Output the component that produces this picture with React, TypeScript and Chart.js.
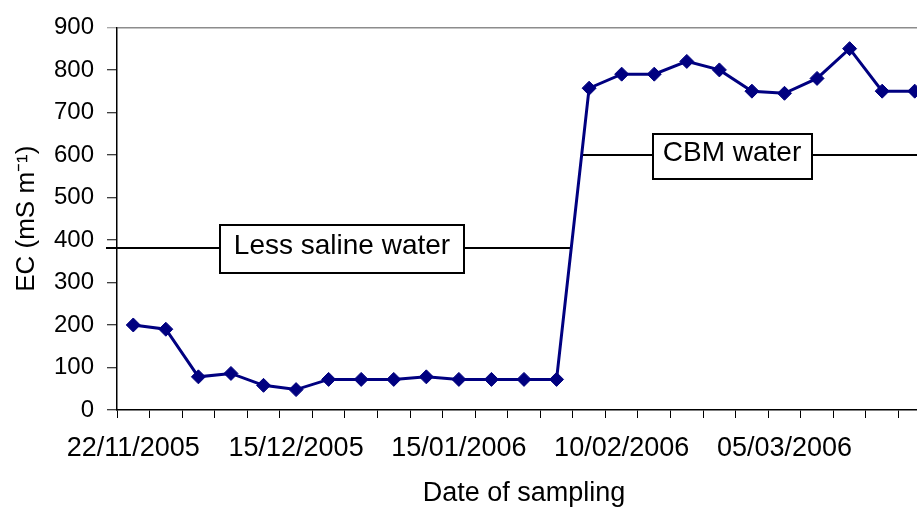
import React, { useEffect, useRef } from "react";
import { Chart, registerables } from "chart.js";

Chart.register(...registerables);

// ---- data ----
const categories = [
  "22/11/2005", "", "", "", "",
  "15/12/2005", "", "", "", "",
  "15/01/2006", "", "", "", "",
  "10/02/2006", "", "", "", "",
  "05/03/2006", "", "", "", "",
];
const ecValues = [
  200, 190, 78, 86, 58, 48, 72, 72, 72, 78, 72, 72, 72, 72,
  757, 790, 790, 820, 800, 750, 745, 780, 850, 750, 750,
];
const yMin = 0;
const yMax = 900;
const yStep = 100;
const annotationLabels = ["Less saline water", "CBM water"];
const annotationLevels = [380, 600];

const FONT = "'Liberation Sans', Arial, Helvetica, sans-serif";

function crossingX(chart: any, level: number): number | null {
  const xs = chart.scales.x;
  for (let i = 0; i < ecValues.length - 1; i++) {
    const a = ecValues[i];
    const b = ecValues[i + 1];
    if (a !== b && (a - level) * (b - level) <= 0) {
      const f = (level - a) / (b - a);
      const p0 = xs.getPixelForValue(i);
      const p1 = xs.getPixelForValue(i + 1);
      return p0 + f * (p1 - p0);
    }
  }
  return null;
}

const annotationPlugin = {
  id: "levelBoxes",
  beforeDatasetsDraw(chart: any, _args: any, opts: any) {
    const { ctx, chartArea, scales } = chart;
    const items = opts.items || [];
    ctx.save();
    items.forEach((it: any) => {
      const y = Math.round(scales.y.getPixelForValue(it.level));
      const cross = crossingX(chart, it.level);
      let x0: number, x1: number;
      if (it.side === "left") {
        x0 = chartArea.left - it.leftOverhang;
        x1 = cross ?? chartArea.right;
      } else {
        x0 = cross ?? chartArea.left;
        x1 = chartArea.right;
      }
      ctx.strokeStyle = "#000";
      ctx.lineWidth = 2;
      ctx.beginPath();
      ctx.moveTo(x0, y);
      ctx.lineTo(x1, y);
      ctx.stroke();

      ctx.font = `${it.fontSize}px ${FONT}`;
      const tw = ctx.measureText(it.text).width;
      const w = Math.round(tw + 2 * it.padX);
      const h = it.boxH;
      const cx = Math.round(scales.x.getPixelForValue(it.boxCenter));
      const top = Math.round(y - h / 2 + 1);
      const left = Math.round(cx - w / 2);
      ctx.fillStyle = "#fff";
      ctx.fillRect(left, top, w, h);
      ctx.lineWidth = 2;
      ctx.strokeRect(left, top, w, h);
      ctx.fillStyle = "#000";
      ctx.textAlign = "center";
      ctx.textBaseline = "alphabetic";
      ctx.fillText(it.text, cx, y + 6);
    });
    ctx.restore();
  },
};

export default function App() {
  const ref = useRef<HTMLCanvasElement | null>(null);

  useEffect(() => {
    if (!ref.current) return;
    const chart = new Chart(ref.current, {
      type: "line",
      data: {
        labels: categories,
        datasets: [
          {
            data: ecValues,
            borderColor: "#000080",
            backgroundColor: "#000080",
            borderWidth: 3,
            pointStyle: "rectRot",
            pointRadius: 7,
            pointBorderWidth: 1,
            pointBackgroundColor: "#000080",
            pointBorderColor: "#000080",
            tension: 0,
            fill: false,
          },
        ],
      },
      plugins: [annotationPlugin as any],
      options: {
        responsive: false,
        animation: false,
        devicePixelRatio: 1,
        layout: { padding: { left: 0, top: 21, right: 14, bottom: 0 } },
        plugins: {
          legend: { display: false },
          tooltip: { enabled: false },
          levelBoxes: {
            items: [
              {
                text: annotationLabels[0],
                level: annotationLevels[0],
                side: "left",
                leftOverhang: 11,
                boxCenter: 6.4,
                padX: 14,
                boxH: 48,
                fontSize: 28,
              },
              {
                text: annotationLabels[1],
                level: annotationLevels[1],
                side: "right",
                leftOverhang: 0,
                boxCenter: 18.4,
                padX: 10.5,
                boxH: 45,
                fontSize: 28,
              },
            ],
          },
        } as any,
        scales: {
          x: {
            type: "category",
            offset: true,
            afterFit: (s: any) => {
              s.height = 103;
            },
            grid: {
              offset: true,
              drawOnChartArea: false,
              drawTicks: true,
              tickLength: 8,
              color: "#000",
              tickColor: "#000",
              tickWidth: 1,
            },
            border: { display: true, color: "#000", width: 1.5 },
            ticks: {
              autoSkip: false,
              maxRotation: 0,
              minRotation: 0,
              padding: 14,
              color: "#000",
              font: { family: FONT, size: 27 },
              callback: (_v: any, i: number) => categories[i],
            },
            title: {
              display: true,
              text: "Date of sampling",
              color: "#000",
              font: { family: FONT, size: 27 },
              padding: { top: 0, bottom: 3 },
            },
          },
          y: {
            min: yMin,
            max: yMax,
            afterFit: (s: any) => {
              s.width = 117;
            },
            ticks: {
              stepSize: yStep,
              padding: 13,
              color: "#000",
              font: { family: FONT, size: 24 },
            },
            grid: {
              drawOnChartArea: true,
              drawTicks: true,
              tickLength: 10,
              color: (c: any) =>
                c.tick && c.tick.value === yMax ? "#8c8c8c" : "rgba(0,0,0,0)",
              tickColor: (c: any) =>
                c.tick && c.tick.value === yMax ? "#8c8c8c" : "#000",
              lineWidth: 1.5,
              tickWidth: 1,
            },
            border: { display: true, color: "#000", width: 1.5 },
            title: {
              display: true,
              text: "EC (mS m\u207B\u00B9)",
              color: "#000",
              font: { family: FONT, size: 26 },
              padding: { top: 11, bottom: 0 },
            },
          },
        },
      },
    });
    return () => chart.destroy();
  }, []);

  return (
    <div
      style={{
        position: "fixed",
        left: 0,
        top: 0,
        width: 917,
        height: 513,
        overflow: "hidden",
        background: "#fff",
      }}
    >
      <canvas
        ref={ref}
        width={945}
        height={513}
        style={{ display: "block", width: 945, height: 513 }}
      />
    </div>
  );
}
